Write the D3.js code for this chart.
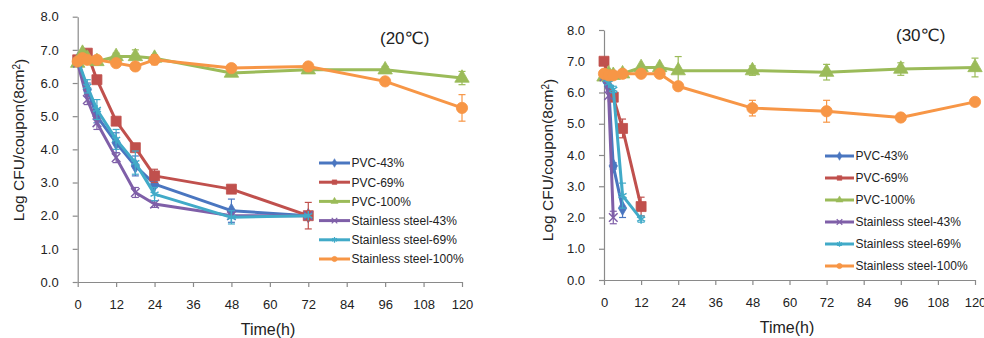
<!DOCTYPE html>
<html>
<head>
<meta charset="utf-8">
<script src="https://cdn.jsdelivr.net/npm/d3@7"></script>
<style>
  body { margin: 0; background: #fff; }
  svg { display: block; }
  text { font-family: "Liberation Sans", Arial, "DejaVu Sans", sans-serif; fill: #222; }
</style>
</head>
<body>
<svg id="chart" width="984" height="338"></svg>
<script>
// series in legend order
const seriesNames = ["PVC-43%", "PVC-69%", "PVC-100%", "Stainless steel-43%", "Stainless steel-69%", "Stainless steel-100%"];
const seriesColors = ["#4a76c0", "#c0504d", "#9bbb59", "#7f5fa8", "#41aac8", "#f79646"];
const seriesSymbols = [d3.symbolDiamond, d3.symbolSquare, d3.symbolTriangle, d3.symbolX, d3.symbolAsterisk, d3.symbolCircle];

const xTicks = [0, 12, 24, 36, 48, 60, 72, 84, 96, 108, 120];
const yTicks = [0, 1, 2, 3, 4, 5, 6, 7, 8];

// sampling times (h)
const hoursDecay20 = [0, 3, 6, 12, 18, 24, 48, 72];
const hoursFull = [0, 1.5, 3, 6, 12, 18, 24, 48, 72, 96, 120];

// 20 C panel
const pvc43_20 = [6.7, 5.8, 5.0, 4.2, 3.5, 2.95, 2.15, 2.0];
const pvc43_20err = [0, 0.2, 0.2, 0.3, 0.3, 0.1, 0.35, 0];
const pvc69_20 = [6.7, 6.9, 6.1, 4.85, 4.05, 3.2, 2.8, 2.0];
const pvc69_20err = [0, 0, 0, 0.1, 0.1, 0.2, 0.1, 0.4];
const pvc100_20 = [6.6, 6.9, 6.75, 6.65, 6.8, 6.8, 6.75, 6.3, 6.4, 6.4, 6.15];
const pvc100_20err = [0, 0, 0, 0, 0.1, 0.2, 0.1, 0.1, 0.1, 0.1, 0.2];
const ss43_20 = [6.6, 5.5, 4.8, 3.75, 2.7, 2.35, 2.0, 2.0];
const ss43_20err = [0, 0.15, 0.2, 0.15, 0.15, 0.1, 0, 0];
const ss69_20 = [6.7, 5.9, 5.2, 4.3, 3.6, 2.65, 1.95, 2.0];
const ss69_20err = [0, 0.2, 0.3, 0.3, 0.35, 0.2, 0.2, 0];
const ss100_20 = [6.65, 6.75, 6.7, 6.7, 6.6, 6.5, 6.7, 6.45, 6.5, 6.05, 5.25];
const ss100_20err = [0, 0, 0, 0, 0.05, 0.1, 0.15, 0.1, 0.1, 0.1, 0.4];

// 30 C panel
const hoursPvc43_30 = [0, 1.5, 3, 6];
const pvc43_30 = [6.5, 6.2, 3.65, 2.3];
const pvc43_30err = [0, 0, 0.1, 0.3];
const hoursPvc69_30 = [0, 3, 6, 12];
const pvc69_30 = [7.0, 5.85, 4.85, 2.35];
const pvc69_30err = [0, 0, 0.3, 0.3];
const pvc100_30 = [6.5, 6.6, 6.55, 6.6, 6.8, 6.8, 6.7, 6.7, 6.65, 6.75, 6.8];
const pvc100_30err = [0, 0, 0, 0, 0.05, 0.05, 0.45, 0.15, 0.25, 0.2, 0.3];
const hoursSs43_30 = [0, 1.5, 3];
const ss43_30 = [6.5, 5.9, 2.0];
const ss43_30err = [0, 0, 0.2];
const hoursSs69_30 = [0, 1.5, 3, 6, 12];
const ss69_30 = [6.5, 6.3, 6.1, 2.7, 1.95];
const ss69_30err = [0, 0, 0.1, 0.4, 0.1];
const ss100_30 = [6.6, 6.55, 6.55, 6.6, 6.6, 6.6, 6.2, 5.5, 5.4, 5.2, 5.7];
const ss100_30err = [0, 0, 0, 0, 0.05, 0.1, 0.1, 0.25, 0.35, 0.1, 0.05];

function zip(hours, vals, errs) {
  return hours.map((t, i) => ({ t: t, v: vals[i], e: errs[i] }));
}

const panels = [
  {
    label: "(20℃)", labelX: 380, labelY: 44,
    xRange: [77.7, 462], yRange: [282, 16.7],
    xTitleX: 268, xTitleY: 335, yTitleX: 24, yTitleY: 140,
    legendX: 319, legendY: 163, legendStep: 19.2, legendLen: 31,
    series: [
      zip(hoursDecay20, pvc43_20, pvc43_20err),
      zip(hoursDecay20, pvc69_20, pvc69_20err),
      zip(hoursFull, pvc100_20, pvc100_20err),
      zip(hoursDecay20, ss43_20, ss43_20err),
      zip(hoursDecay20, ss69_20, ss69_20err),
      zip(hoursFull, ss100_20, ss100_20err),
    ],
  },
  {
    label: "(30℃)", labelX: 896, labelY: 41,
    xRange: [604, 975], yRange: [280, 30],
    xTitleX: 787, xTitleY: 333, yTitleX: 553, yTitleY: 160,
    legendX: 825, legendY: 156, legendStep: 22, legendLen: 29,
    series: [
      zip(hoursPvc43_30, pvc43_30, pvc43_30err),
      zip(hoursPvc69_30, pvc69_30, pvc69_30err),
      zip(hoursFull, pvc100_30, pvc100_30err),
      zip(hoursSs43_30, ss43_30, ss43_30err),
      zip(hoursSs69_30, ss69_30, ss69_30err),
      zip(hoursFull, ss100_30, ss100_30err),
    ],
  },
];

const markerSizes = [60, 100, 90, 50, 60, 100];
const svg = d3.select("#chart");

panels.forEach((p) => {
  const g = svg.append("g");
  const x = d3.scaleLinear().domain([0, 120]).range(p.xRange);
  const y = d3.scaleLinear().domain([0, 8]).range(p.yRange);

  const xAxis = g.append("g")
    .attr("transform", `translate(0,${p.yRange[0]})`)
    .call(d3.axisBottom(x).tickValues(xTicks).tickSize(5).tickSizeOuter(0).tickPadding(13));
  const yAxis = g.append("g")
    .attr("transform", `translate(${p.xRange[0]},0)`)
    .call(d3.axisLeft(y).tickValues(yTicks).tickFormat(d3.format(".1f")).tickSize(5).tickSizeOuter(0).tickPadding(14));
  [xAxis, yAxis].forEach((a) => {
    a.select(".domain").attr("stroke", "#8a8a8a").attr("stroke-width", 1.2);
    a.selectAll(".tick line").attr("stroke", "#8a8a8a").attr("stroke-width", 1.2);
    a.selectAll(".tick text").style("font-size", "13px").attr("fill", "#333");
  });

  const line = d3.line().x((d) => x(d.t)).y((d) => y(d.v));

  p.series.forEach((data, i) => {
    const color = seriesColors[i];
    const sg = g.append("g");
    sg.append("path")
      .datum(data)
      .attr("d", line)
      .attr("fill", "none")
      .attr("stroke", color)
      .attr("stroke-width", 3)
      .attr("stroke-linejoin", "round");

    const bars = sg.selectAll(".err").data(data.filter((d) => d.e > 0)).join("g");
    bars.append("line")
      .attr("x1", (d) => x(d.t)).attr("x2", (d) => x(d.t))
      .attr("y1", (d) => y(d.v - d.e)).attr("y2", (d) => y(d.v + d.e));
    bars.append("line")
      .attr("x1", (d) => x(d.t) - 3.5).attr("x2", (d) => x(d.t) + 3.5)
      .attr("y1", (d) => y(d.v + d.e)).attr("y2", (d) => y(d.v + d.e));
    bars.append("line")
      .attr("x1", (d) => x(d.t) - 3.5).attr("x2", (d) => x(d.t) + 3.5)
      .attr("y1", (d) => y(d.v - d.e)).attr("y2", (d) => y(d.v - d.e));
    bars.selectAll("line").attr("stroke", color).attr("stroke-width", 1.2);

    const stroked = i === 3 || i === 4;
    sg.selectAll(".mark").data(data).join("path")
      .attr("transform", (d) => `translate(${x(d.t)},${y(d.v)})`)
      .attr("d", d3.symbol(seriesSymbols[i], markerSizes[i]))
      .attr("fill", stroked ? "none" : color)
      .attr("stroke", color)
      .attr("stroke-width", stroked ? 1.5 : 0.8);
  });

  // legend
  seriesNames.forEach((name, i) => {
    const ly = p.legendY + i * p.legendStep;
    g.append("line")
      .attr("x1", p.legendX).attr("x2", p.legendX + p.legendLen)
      .attr("y1", ly).attr("y2", ly)
      .attr("stroke", seriesColors[i]).attr("stroke-width", 3);
    const stroked = i === 3 || i === 4;
    g.append("path")
      .attr("transform", `translate(${p.legendX + p.legendLen / 2},${ly})`)
      .attr("d", d3.symbol(seriesSymbols[i], 22))
      .attr("fill", stroked ? "none" : seriesColors[i])
      .attr("stroke", seriesColors[i])
      .attr("stroke-width", stroked ? 1.2 : 0.5);
    g.append("text")
      .attr("x", p.legendX + p.legendLen + 1.5).attr("y", ly)
      .attr("dy", "0.36em")
      .style("font-size", "12px")
      .attr("fill", "#333")
      .text(name);
  });

  g.append("text")
    .attr("x", p.labelX).attr("y", p.labelY)
    .style("font-size", "17px")
    .attr("fill", "#111")
    .text(p.label);

  g.append("text")
    .attr("x", p.xTitleX).attr("y", p.xTitleY)
    .attr("text-anchor", "middle")
    .style("font-size", "16px")
    .attr("fill", "#333")
    .text("Time(h)");

  const yt = g.append("text")
    .attr("transform", `translate(${p.yTitleX},${p.yTitleY}) rotate(-90)`)
    .attr("text-anchor", "middle")
    .style("font-size", "15.5px")
    .attr("fill", "#333");
  yt.append("tspan").text("Log CFU/coupon(8cm");
  yt.append("tspan").attr("dy", "-0.4em").style("font-size", "10px").text("2");
  yt.append("tspan").attr("dy", "0.4em").text(")");
});
</script>
</body>
</html>
